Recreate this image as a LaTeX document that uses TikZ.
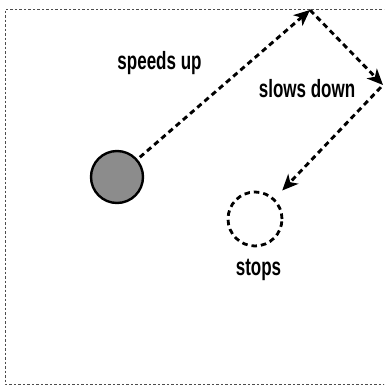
\documentclass[tikz,border=0pt]{standalone}
\usepackage{fontspec}
\setmainfont{Liberation Sans}
\usetikzlibrary{arrows.meta}
\tikzset{
  lbl/.style={anchor=base, inner sep=0pt, font=\fontsize{25}{28}\selectfont\bfseries},
  motion/.style={line width=2.9pt, dash pattern=on 5.5pt off 4pt, -{Stealth[length=16pt,width=14pt,inset=4.5pt]}},
  frame/.style={line width=0.9pt, draw=black!70, dash pattern=on 2.5pt off 2pt},
}
\newcommand{\narrow}[1]{\scalebox{0.68}[1]{#1}}
\begin{document}
\begin{tikzpicture}[x=1pt,y=-1pt]
\useasboundingbox (0,0) rectangle (384,389);
\clip (0,0) rectangle (384,389);
\draw[frame] (395,9) -- (5,9) -- (5,384) -- (395,384);
\node[circle, draw=black, line width=2.4pt, fill=black!45, minimum size=52pt, inner sep=0pt] (ball) at (117,177) {};
\node[circle, draw=black, line width=2.8pt, dash pattern=on 5.5pt off 4pt, minimum size=54pt, inner sep=0pt] (stop) at (255,219) {};
\coordinate (top) at (310,10);
\coordinate (rt) at (383,85);
\draw[motion, shorten <=3pt] (ball) -- (top);
\draw[motion] (top) -- (rt);
\draw[motion, shorten <=3pt, shorten >=11pt] (rt) -- (stop);
\node[lbl] (l1) at (159.5,69) {\narrow{speeds up}};
\node[lbl] (l2) at (307,97) {\narrow{slows down}};
\node[lbl] (l3) at (258.5,275) {\narrow{stops}};
\end{tikzpicture}
\end{document}
